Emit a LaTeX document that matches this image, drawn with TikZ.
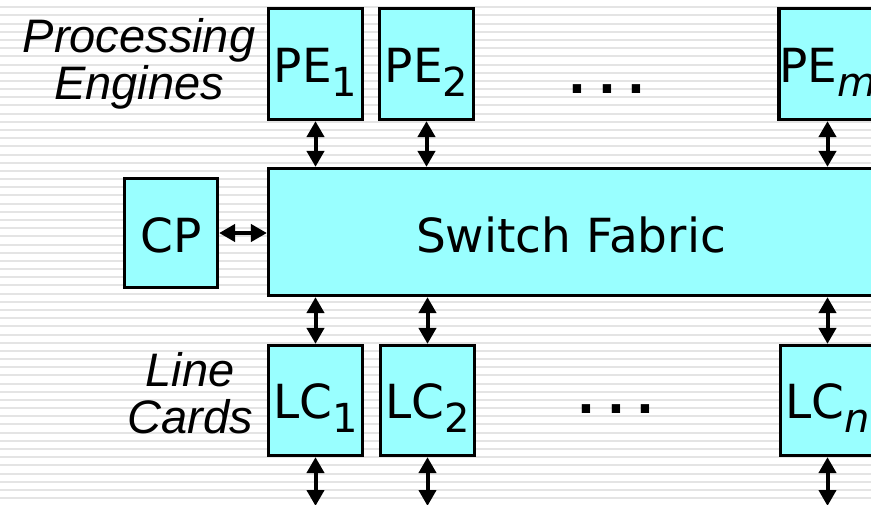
\documentclass[tikz,border=0pt]{standalone}
\usepackage{fontspec}
\setmainfont{DejaVu Sans}
\newfontfamily\arialfont{Liberation Sans}
\usetikzlibrary{arrows.meta}
\definecolor{boxcyan}{RGB}{153,255,255}
\definecolor{stripegray}{RGB}{228,228,228}
\newcommand\lowsub[1]{\raisebox{-14pt}{\fontsize{40}{40}\selectfont #1}}
\begin{document}
\begin{tikzpicture}[x=1pt,y=-1pt,
  unit/.style={draw=black, line width=3.2pt, fill=boxcyan, inner sep=0pt,
    minimum width=94pt, minimum height=111pt,
    font=\fontsize{47}{47}\selectfont, text height=36pt, text depth=0pt},
  link/.style={line width=4pt,
    {Triangle[width=17pt,length=16pt]}-{Triangle[width=17pt,length=16pt]}},
  sidelabel/.style={font=\arialfont\itshape\fontsize{47}{47}\selectfont,
    align=center, inner sep=0pt, anchor=base},
  dotrow/.style={font=\bfseries\fontsize{47}{47}\selectfont, inner sep=0pt, anchor=base},
  stripe/.style={draw=stripegray, line width=2pt}]
\useasboundingbox (0,0) rectangle (871,504);
\fill[white] (0,0) rectangle (871,504);
\begin{scope}
\clip (0,0) rectangle (871,504);
\foreach \k in {0,...,61}{
  \pgfmathsetmacro{\yy}{7.3+\k*8.18}
  \draw[stripe] (0,\yy) -- (871,\yy);
}
% processing engines
\node[unit] (pe1) at (315.5,64) {PE\lowsub{1}};
\node[unit] (pe2) at (426.5,64) {PE\lowsub{2}};
\node[unit] (pem) at (827.5,64) {PE\lowsub{\itshape m}};
% switch fabric and CP
\node[unit, minimum width=605pt, minimum height=127pt, text height=40pt] (sf) at (571,232) {Switch Fabric};
\node[unit, minimum width=93pt, minimum height=109pt, text height=38pt] (cp) at (171,233) {CP};
% line cards
\node[unit, minimum height=110pt, text height=35pt] (lc1) at (315.5,400.5) {LC\lowsub{1}};
\node[unit, minimum height=110pt, text height=35pt] (lc2) at (427.5,400.5) {LC\lowsub{2}};
\node[unit, minimum height=110pt, text height=35pt] (lcn) at (827.5,400.5) {LC\lowsub{\itshape n}};
% labels
\node[sidelabel] (lblpe) at (139,99) {Processing\\Engines};
\node[sidelabel] (lbllc) at (190,433) {Line\\Cards};
\node[dotrow] (dotspe) at (607,93) {.\hspace{11.6pt}.\hspace{11.6pt}.};
\node[dotrow] (dotslc) at (616,413) {.\hspace{11.6pt}.\hspace{11.6pt}.};
% connectors
\draw[link] (pe1.south) -- (pe1.south |- sf.north);
\draw[link] (pe2.south) -- (pe2.south |- sf.north);
\draw[link] (pem.south) -- (pem.south |- sf.north);
\draw[link] (cp.east) -- (cp.east -| sf.west);
\draw[link] (lc1.north) -- (lc1.north |- sf.south);
\draw[link] (lc2.north) -- (lc2.north |- sf.south);
\draw[link] (lcn.north) -- (lcn.north |- sf.south);
\coordinate (out1) at (315.5,506);
\coordinate (out2) at (427.5,506);
\coordinate (outn) at (827.5,506);
\draw[link] (lc1.south) -- (out1);
\draw[link] (lc2.south) -- (out2);
\draw[link] (lcn.south) -- (outn);
\end{scope}
\end{tikzpicture}
\end{document}
